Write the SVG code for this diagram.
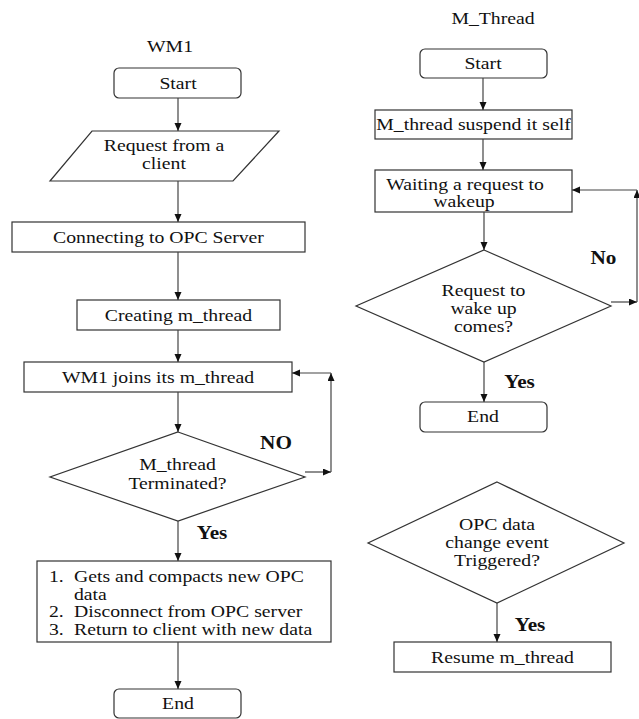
<svg xmlns="http://www.w3.org/2000/svg" width="639" height="719" viewBox="0 0 639 719">
<defs>
<marker id="arr" markerUnits="userSpaceOnUse" markerWidth="9" markerHeight="8" refX="8" refY="3.5" orient="auto">
<path d="M0,0 L8,3.5 L0,7 z" fill="#111"/>
</marker>
<style>
.shape{fill:#fff;stroke:#333;stroke-width:1.2}
.conn line,.conn path{stroke:#444;stroke-width:1.2;fill:none;marker-end:url(#arr)}
text{font-family:"Liberation Serif","Times New Roman",serif;font-size:17px;fill:#111;text-anchor:middle}
.b{font-weight:bold;font-size:18px}
.l{text-anchor:start}
</style>
</defs>
<rect width="639" height="719" fill="#fff"/>

<g id="titles">
<text transform="translate(170,51.5) scale(1.16,1)">WM1</text>
<text transform="translate(493,23.5) scale(1.16,1)">M_Thread</text>
</g>

<g id="l_start"><rect class="shape" x="114" y="68" width="127" height="30" rx="5"/><text transform="translate(178,88.5) scale(1.16,1)">Start</text></g>
<g id="l_request"><polygon class="shape" points="92,131 279,131 233,181 50,181"/><text transform="translate(164,151) scale(1.16,1)">Request from a</text><text transform="translate(164,168.5) scale(1.16,1)">client</text></g>
<g id="l_connect"><rect class="shape" x="12" y="222" width="293" height="30"/><text transform="translate(158.5,242.5) scale(1.16,1)">Connecting to OPC Server</text></g>
<g id="l_create"><rect class="shape" x="77" y="300" width="203" height="30"/><text transform="translate(178.5,320.5) scale(1.16,1)">Creating m_thread</text></g>
<g id="l_join"><rect class="shape" x="24" y="362" width="268" height="30"/><text transform="translate(158,382.5) scale(1.16,1)">WM1 joins its m_thread</text></g>
<g id="l_decision"><polygon class="shape" points="178,432 305,477 178,521 50,477"/><text transform="translate(177.5,470) scale(1.16,1)">M_thread</text><text transform="translate(177.5,488.5) scale(1.16,1)">Terminated?</text></g>
<g id="l_list"><rect class="shape" x="37" y="561" width="294" height="81"/>
<text class="l" transform="translate(49,582) scale(1.16,1)">1.</text><text class="l" transform="translate(74,582) scale(1.16,1)">Gets and compacts new OPC</text>
<text class="l" transform="translate(74,599.5) scale(1.16,1)">data</text>
<text class="l" transform="translate(49,617) scale(1.16,1)">2.</text><text class="l" transform="translate(74,617) scale(1.16,1)">Disconnect from OPC server</text>
<text class="l" transform="translate(49,634.7) scale(1.16,1)">3.</text><text class="l" transform="translate(74,634.7) scale(1.16,1)">Return to client with new data</text>
</g>
<g id="l_end"><rect class="shape" x="114" y="689" width="127" height="29" rx="5"/><text transform="translate(178,708.5) scale(1.16,1)">End</text></g>

<g id="r_start"><rect class="shape" x="420" y="49" width="127" height="29" rx="5"/><text transform="translate(483,68.5) scale(1.16,1)">Start</text></g>
<g id="r_suspend"><rect class="shape" x="375" y="110" width="197" height="29"/><text transform="translate(473.5,129.5) scale(1.16,1)">M_thread suspend it self</text></g>
<g id="r_wait"><rect class="shape" x="375" y="170" width="197" height="42"/><text transform="translate(465,189.5) scale(1.16,1)">Waiting a request to</text><text transform="translate(464,207) scale(1.16,1)">wakeup</text></g>
<g id="r_decision"><polygon class="shape" points="484,250 611,306 484,362 356,306"/><text transform="translate(483.5,295.5) scale(1.16,1)">Request to</text><text transform="translate(483.5,313.5) scale(1.16,1)">wake up</text><text transform="translate(483.5,332) scale(1.16,1)">comes?</text></g>
<g id="r_end"><rect class="shape" x="420" y="402" width="127" height="30" rx="5"/><text transform="translate(483,422) scale(1.16,1)">End</text></g>
<g id="r_event"><polygon class="shape" points="497,482 624,543 497,603 368,543"/><text transform="translate(497,529.5) scale(1.16,1)">OPC data</text><text transform="translate(497,547.5) scale(1.16,1)">change event</text><text transform="translate(497,565.5) scale(1.16,1)">Triggered?</text></g>
<g id="r_resume"><rect class="shape" x="394" y="642" width="217" height="30"/><text transform="translate(502.5,662.5) scale(1.16,1)">Resume m_thread</text></g>

<g id="labels">
<text class="b" transform="translate(276,449) scale(1.18,1)">NO</text>
<text class="b" transform="translate(212,539) scale(1.18,1)">Yes</text>
<text class="b" transform="translate(603.5,264) scale(1.18,1)">No</text>
<text class="b" transform="translate(519.5,388) scale(1.18,1)">Yes</text>
<text class="b" transform="translate(530,631) scale(1.18,1)">Yes</text>
</g>

<g class="conn" id="connectors">
<line x1="178" y1="98" x2="178" y2="131"/>
<line x1="178" y1="181" x2="178" y2="222"/>
<line x1="178" y1="252" x2="178" y2="300"/>
<line x1="178" y1="330" x2="178" y2="362"/>
<line x1="178" y1="392" x2="178" y2="432"/>
<line x1="305" y1="472" x2="331" y2="472"/>
<line x1="331" y1="472" x2="331" y2="373"/>
<line x1="331" y1="373" x2="292" y2="373"/>
<line x1="178" y1="521" x2="178" y2="561"/>
<line x1="178" y1="642" x2="178" y2="689"/>
<line x1="483" y1="78" x2="483" y2="110"/>
<line x1="483" y1="139" x2="483" y2="170"/>
<line x1="484" y1="212" x2="484" y2="250"/>
<line x1="611" y1="302" x2="637" y2="302"/>
<line x1="637" y1="302" x2="637" y2="190"/>
<line x1="637" y1="190" x2="572" y2="190"/>
<line x1="484" y1="362" x2="484" y2="402"/>
<line x1="497" y1="603" x2="497" y2="642"/>
</g>
</svg>
